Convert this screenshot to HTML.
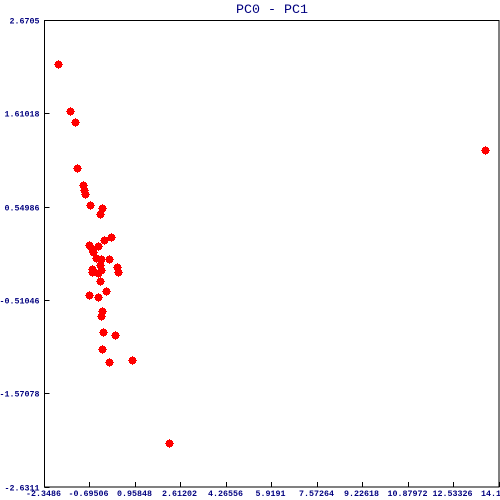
<!DOCTYPE html>
<html>
<head>
<meta charset="utf-8">
<title>PC0 - PC1</title>
<style>
html,body{margin:0;padding:0;background:#fff;width:500px;height:500px;overflow:hidden}
svg{display:block}
text{font-family:"Liberation Mono",monospace;fill:#00007f;white-space:pre}
.tick-label{font-size:8.33px;font-weight:bold}
.title{font-size:13.33px}
</style>
</head>
<body>
<svg id="chart" width="500" height="500" viewBox="0 0 500 500" xmlns="http://www.w3.org/2000/svg">
<rect width="500" height="500" fill="#fff"/>
<text class="title" x="272" y="13" text-anchor="middle">PC0 - PC1</text>
<g id="marks" shape-rendering="crispEdges"></g>
<g id="axes"></g>
</svg>
<script>
const xTickLabels = ["-2.3486","-0.69506","0.95848","2.61202","4.26556","5.9191","7.57264","9.22618","10.87972","12.53326","14.1868"];
const yTickLabels = ["2.6705","1.61018","0.54986","-0.51046","-1.57078","-2.6311"];
const pc0Values = [-1.847,-1.41,-1.229,-1.156,-0.938,-0.901,-0.85,-0.683,-0.247,-0.32,0.08,-0.174,-0.72,-0.392,-0.596,-0.574,-0.45,-0.269,0.008,-0.305,0.299,0.335,-0.596,-0.392,-0.33,-0.087,-0.72,-0.392,-0.247,-0.283,-0.21,0.226,-0.247,0.008,0.844,2.204,13.68,-0.61,-0.276];
const pc1Values = [2.173,1.639,1.511,0.991,0.801,0.736,0.695,0.57,0.536,0.464,0.207,0.165,0.116,0.105,0.071,0.037,-0.032,-0.051,-0.043,-0.119,-0.134,-0.19,-0.19,-0.202,-0.3,-0.407,-0.452,-0.475,-0.642,-0.695,-0.873,-0.911,-1.066,-1.214,-1.191,-2.134,1.195,-0.159,-0.171];

const NS = 'http://www.w3.org/2000/svg';
const plotLeft = 44.5, plotRight = 499.2, plotTop = 20.5, plotBottom = 487;
const xMin = parseFloat(xTickLabels[0]), xMax = parseFloat(xTickLabels[xTickLabels.length - 1]);
const yMax = parseFloat(yTickLabels[0]), yMin = parseFloat(yTickLabels[yTickLabels.length - 1]);
function xScale(v) { return plotLeft + (v - xMin) / (xMax - xMin) * (plotRight - plotLeft); }
function yScale(v) { return plotTop + (yMax - v) / (yMax - yMin) * (plotBottom - plotTop); }
function make(tag, attrs, parent) {
  const el = document.createElementNS(NS, tag);
  for (const k in attrs) el.setAttribute(k, attrs[k]);
  parent.appendChild(el);
  return el;
}
const axes = document.getElementById('axes');
const marks = document.getElementById('marks');

const frame = make('rect', {x: 44.5, y: 20.5, width: 454.5, height: 466.5, fill: 'none', stroke: '#000', 'stroke-width': 1, 'shape-rendering': 'crispEdges'}, axes);



xTickLabels.forEach(function (label) {
  const px = Math.floor(xScale(parseFloat(label))) + 0.5;
  const tick = make('line', {x1: px, x2: px, y1: 482, y2: 487, stroke: '#000', 'shape-rendering': 'crispEdges'}, axes);
  
  
  const t = make('text', {x: px - 1, y: 496, 'text-anchor': 'middle', class: 'tick-label'}, axes);
  
  
  t.textContent = label;
});

yTickLabels.forEach(function (label) {
  const py = Math.floor(yScale(parseFloat(label))) + 0.5;
  const tick = make('line', {x1: 44.5, x2: 49.5, y1: py, y2: py, stroke: '#000', 'shape-rendering': 'crispEdges'}, axes);
  
  
  const t = make('text', {x: 39.5, y: py + 3, 'text-anchor': 'end', class: 'tick-label'}, axes);
  
  
  t.textContent = label;
});

pc0Values.forEach(function (v, i) {
  const cx = Math.floor(xScale(v)), cy = Math.floor(yScale(pc1Values[i]));
  const g = make('g', {fill: '#ff0000'}, marks);
  
  
  make('rect', {x: cx - 3, y: cy - 2, width: 7, height: 5}, g);
  make('rect', {x: cx - 2, y: cy - 3, width: 5, height: 7}, g);
  make('rect', {x: cx - 4, y: cy, width: 9, height: 1}, g);
  make('rect', {x: cx, y: cy - 4, width: 1, height: 9}, g);
});
</script>
</body>
</html>
